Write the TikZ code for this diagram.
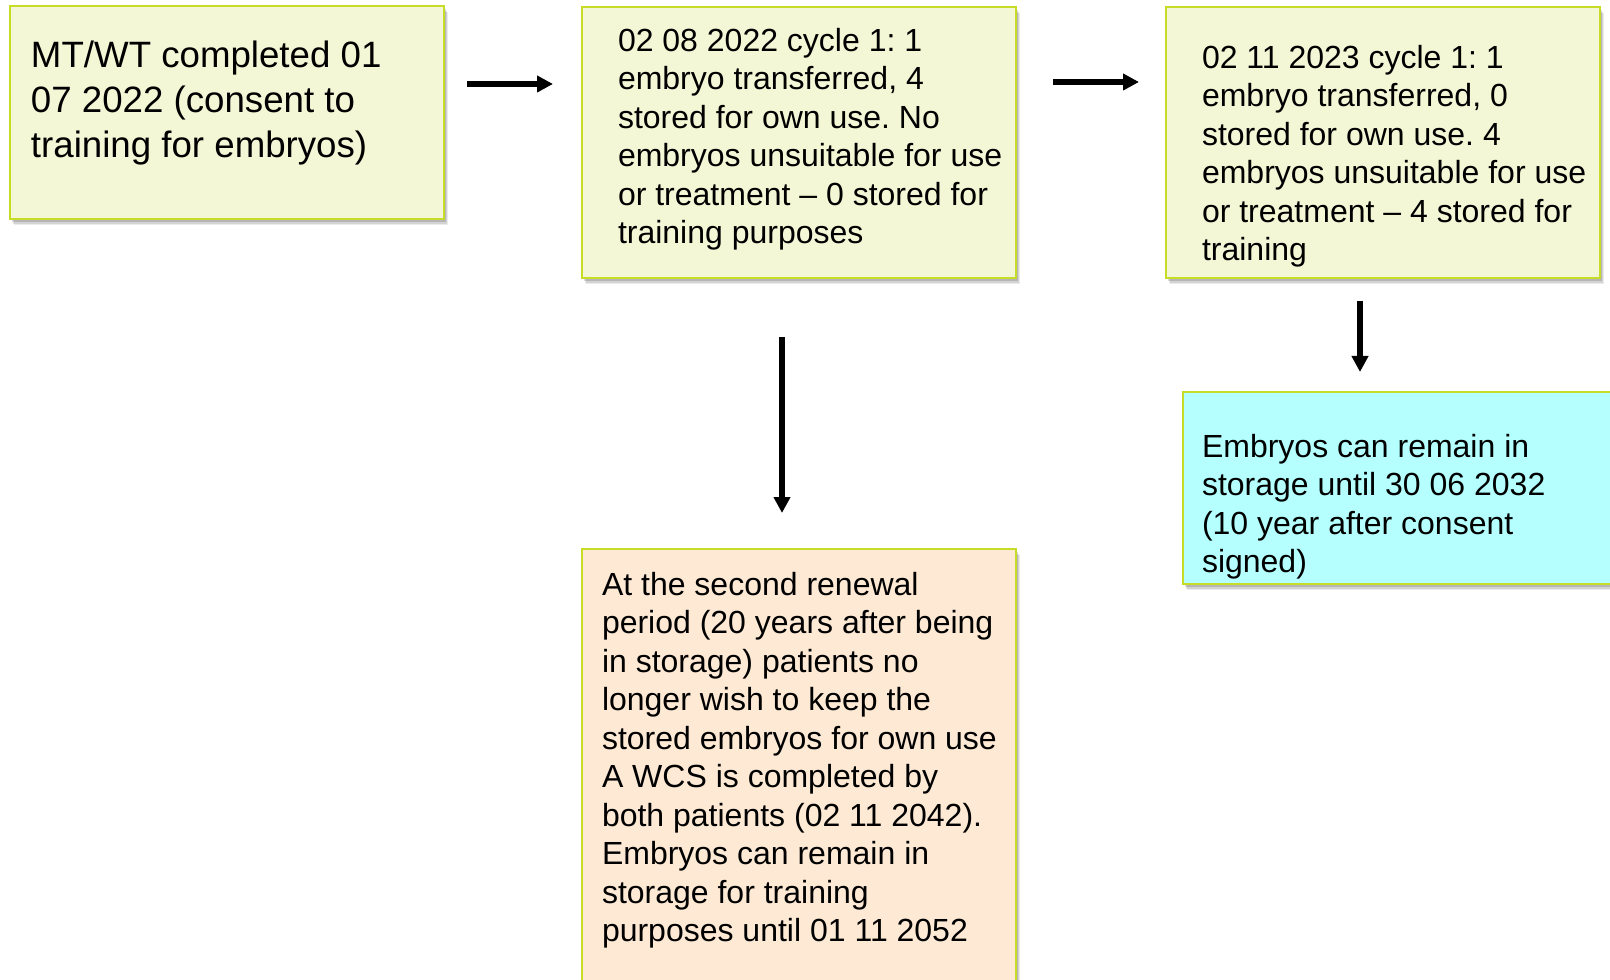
\documentclass[tikz,border=0pt]{standalone}
\usepackage{fontspec}
\setmainfont{Liberation Sans}
\usetikzlibrary{arrows.meta,shadows}
\frenchspacing
\definecolor{boxgreen}{RGB}{243,247,213}
\definecolor{boxcyan}{RGB}{181,255,255}
\definecolor{boxpeach}{RGB}{253,233,212}
\definecolor{bordercol}{RGB}{198,220,38}
\tikzset{
  stagebox/.style={rectangle, draw=bordercol, line width=2.2pt, inner sep=0pt, outer sep=0pt,
    anchor=north west,
    drop shadow={shadow xshift=3pt, shadow yshift=-4.5pt, fill=black, opacity=0.08},
    drop shadow={shadow xshift=2.2pt, shadow yshift=-3.4pt, fill=black, opacity=0.10},
    drop shadow={shadow xshift=1.4pt, shadow yshift=-2.4pt, fill=black, opacity=0.14}},
  boxtext/.style={anchor=north west, inner sep=0pt, outer sep=0pt, align=left,
    font=\fontsize{24pt}{28.9pt}\selectfont},
  bigtext/.style={anchor=north west, inner sep=0pt, outer sep=0pt, align=left,
    font=\fontsize{27.5pt}{33.4pt}\selectfont},
  flowarrow/.style={line width=4.1pt, -{Triangle[length=12pt,width=12pt]}}
}
\begin{document}
\begin{tikzpicture}[x=0.75pt,y=-0.75pt]
\useasboundingbox[fill=white] (0,0) rectangle (1610,980);
% boxes
\node[stagebox, fill=boxgreen, minimum width=434*0.75pt, minimum height=213*0.75pt] (b1) at (10,6) {};
\node[stagebox, fill=boxgreen, minimum width=434*0.75pt, minimum height=271*0.75pt] (b2) at (582,7) {};
\node[stagebox, fill=boxgreen, minimum width=434*0.75pt, minimum height=271*0.75pt] (b3) at (1166,7) {};
\node[stagebox, fill=boxcyan, minimum width=450*0.75pt, minimum height=192*0.75pt] (b4) at (1183,392) {};
\node[stagebox, fill=boxpeach, minimum width=434*0.75pt, minimum height=460*0.75pt] (b5) at (582,549) {};
% texts
\node[bigtext] (t1) at (31,36.8) {\strut MT/WT completed 01\\07 2022 (consent to\\training for embryos)};
\node[boxtext] (t2) at (618,24.05) {\strut 02 08 2022 cycle 1: 1\\embryo transferred, 4\\stored for own use. No\\embryos unsuitable for use\\or treatment -- 0 stored for\\training purposes};
\node[boxtext] (t3) at (1202,41.05) {\strut 02 11 2023 cycle 1: 1\\embryo transferred, 0\\stored for own use. 4\\embryos unsuitable for use\\or treatment -- 4 stored for\\training};
\node[boxtext] (t4) at (1202,430.05) {\strut Embryos can remain in\\storage until 30 06 2032\\(10 year after consent\\signed)};
\node[boxtext] (t5) at (602,568.05) {\strut At the second renewal\\period (20 years after being\\in storage) patients no\\longer wish to keep the\\stored embryos for own use\\A WCS is completed by\\both patients (02 11 2042).\\Embryos can remain in\\storage for training\\purposes until 01 11 2052};
% arrows
\coordinate (a1s) at (467,84);
\coordinate (a1e) at (553,84);
\coordinate (a2s) at (1053,82);
\coordinate (a2e) at (1139,82);
\coordinate (a3s) at (782,337);
\coordinate (a3e) at (782,513);
\coordinate (a4s) at (1360,301);
\coordinate (a4e) at (1360,372);
\draw[flowarrow] (a1s) -- (a1e);
\draw[flowarrow] (a2s) -- (a2e);
\draw[flowarrow] (a3s) -- (a3e);
\draw[flowarrow] (a4s) -- (a4e);
\end{tikzpicture}
\end{document}
